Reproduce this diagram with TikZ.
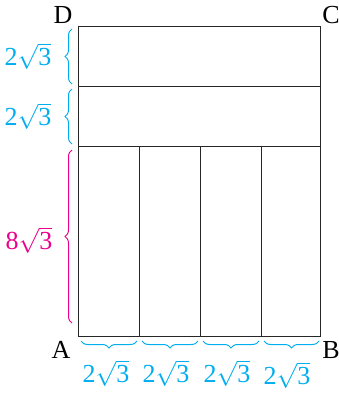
\documentclass[tikz,border=0pt]{standalone}
\usepackage{fontspec}
\setmainfont{Liberation Serif}
\usetikzlibrary{decorations.pathreplacing}
\definecolor{cyanlbl}{RGB}{0,174,239}
\definecolor{pinklbl}{RGB}{236,0,140}
\newcommand{\rtlbl}[1]{#1$\sqrt{\mbox{3}}$}
\begin{document}
\begin{tikzpicture}[x=1pt,y=-1pt,
  box/.style={draw=black!85,line width=0.95pt},
  bracel/.style={decorate,decoration={brace,amplitude=7pt},line width=1pt},
  braceb/.style={decorate,decoration={brace,amplitude=7pt,mirror},line width=1pt},
  vlbl/.style={font=\fontsize{26}{28}\selectfont,inner sep=0pt},
  corner/.style={font=\fontsize{26}{28}\selectfont,inner sep=0pt}]
\useasboundingbox (0,0) rectangle (339,393);
% main rectangle
\coordinate (A) at (78,336);
\coordinate (B) at (320,336);
\coordinate (C) at (320,26);
\coordinate (D) at (78,26);
\draw[box] (A) rectangle (C);
\coordinate (h1l) at (78,86); \coordinate (h1r) at (320,86);
\coordinate (h2l) at (78,146); \coordinate (h2r) at (320,146);
\draw[box] (h1l) -- (h1r);
\draw[box] (h2l) -- (h2r);
\foreach \x/\n in {139/v1,200/v2,261/v3}{
  \coordinate (\n t) at (\x,146); \coordinate (\n b) at (\x,336);
  \draw[box] (\n t) -- (\n b);
}
% corner labels
\node[corner] (lA) at (61,350) {A};
\node[corner] (lB) at (331,350) {B};
\node[corner] (lC) at (331,15) {C};
\node[corner] (lD) at (63,15) {D};
% left braces
\coordinate (b1s) at (72,84); \coordinate (b1e) at (72,29);
\coordinate (b2s) at (72,144); \coordinate (b2e) at (72,89);
\coordinate (b3s) at (72,323); \coordinate (b3e) at (72,150);
\draw[bracel,cyanlbl] (b1s) -- (b1e);
\draw[bracel,cyanlbl] (b2s) -- (b2e);
\draw[bracel,pinklbl] (b3s) -- (b3e);
\node[vlbl,text=cyanlbl] (l1) at (28,56) {\rtlbl{2}};
\node[vlbl,text=cyanlbl] (l2) at (28,116) {\rtlbl{2}};
\node[vlbl,text=pinklbl] (l3) at (29,240) {\rtlbl{8}};
% bottom braces
\foreach \a/\b/\c/\yy/\n in {81/137/106/373/q1,142/198/166/373/q2,203/259/227/373/q3,264/319/287/375/q4}{
  \coordinate (\n s) at (\a,341); \coordinate (\n e) at (\b,341);
  \draw[braceb,cyanlbl] (\n s) -- (\n e);
  \node[vlbl,text=cyanlbl] (\n l) at (\c,\yy) {\rtlbl{2}};
}
\end{tikzpicture}
\end{document}
